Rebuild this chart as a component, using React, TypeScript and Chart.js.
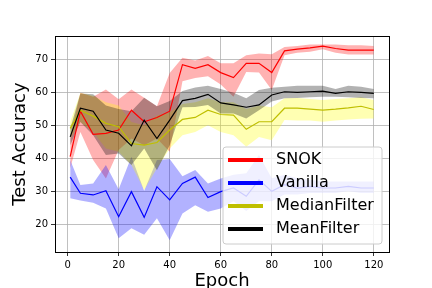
import React, { useEffect, useRef } from "react";
import { Chart, registerables } from "chart.js";

Chart.register(...registerables);

const epochs = [1, 5, 10, 15, 20, 25, 30, 35, 40, 45, 50, 55, 60, 65, 70, 75, 80, 85, 90, 95, 100, 105, 110, 115, 120];

const snokMean = [40.5, 54.3, 47.3, 47.6, 48.6, 54.6, 51.1, 52.4, 54.3, 68.4, 67.3, 68.4, 66.0, 64.5, 68.8, 68.8, 66.0, 72.6, 73.1, 73.5, 74.0, 73.3, 72.8, 72.8, 72.8];
const snokLow = [37, 48, 39.5, 33.9, 42.5, 46, 44, 46, 42, 63.4, 64.4, 64.9, 62.4, 58.7, 66.2, 66, 60.7, 71.3, 72, 72.3, 73.1, 72, 71.5, 71.5, 71.5];
const snokHigh = [46, 59.9, 58.7, 60.9, 57.9, 60.9, 58.4, 55.8, 65.9, 70.5, 69.7, 71, 68.8, 68.8, 71.3, 71.8, 71.6, 73.8, 74.1, 74.5, 74.5, 74.5, 74.3, 74.3, 74.1];

const vanMean = [34.3, 29.4, 28.9, 30.2, 22.3, 29.9, 22.1, 31.4, 27.4, 32.4, 34.3, 28.1, 29.9, 31.0, 28.5, 33.5, 30.0, 32.0, 31.0, 31.5, 31.0, 31.0, 31.5, 31.0, 31.0];
const vanLow = [27.9, 27.2, 26.5, 24.8, 15.8, 18.8, 16.8, 21.8, 15.2, 23.3, 25.8, 23.8, 24.8, 27, 24, 27, 27, 29, 29, 29.5, 29.5, 29.5, 30, 29.5, 29.5];
const vanHigh = [39.5, 31.9, 32.4, 38, 30.6, 40.5, 30.2, 39.5, 39.8, 34.6, 36.5, 32.4, 33.9, 35, 35.5, 41, 34, 35, 34, 33.5, 33, 33, 33, 33, 33];

const medMean = [49.1, 54.6, 52.8, 50.6, 49.6, 44.5, 44.0, 44.8, 48.6, 51.8, 52.4, 54.6, 53.3, 53.1, 48.8, 51.1, 51.1, 55.2, 55.2, 54.9, 54.6, 54.9, 55.3, 55.8, 54.8];
const medLow = [46, 51, 48, 43, 42, 38, 30.4, 37, 43, 47, 48, 50, 48, 47, 43.5, 46.5, 45.5, 51.6, 51.5, 51.5, 51.1, 51.5, 51.8, 52, 52.1];
const medHigh = [51, 59.8, 59, 57, 56, 51, 50, 53, 54, 56.5, 57, 58.2, 57, 57, 55, 56, 55.5, 58.2, 58.3, 58, 57.7, 58, 58.2, 58.5, 57.7];

const meanMean = [46.5, 55.2, 54.3, 48.6, 47.6, 43.8, 51.6, 46.0, 51.6, 57.5, 58.2, 59.4, 56.8, 56.2, 55.5, 56.2, 59.2, 60.2, 60.0, 60.2, 60.4, 59.7, 60.2, 60.0, 59.7];
const meanLow = [44, 51, 47, 41, 41.5, 38, 43, 36.4, 44, 55.5, 55.6, 56.2, 53.6, 53.6, 52.1, 54.6, 57.2, 58.2, 58.3, 58.5, 58.7, 58.7, 58.5, 58.3, 58.2];
const meanHigh = [49, 59.7, 59.4, 56, 55, 54.3, 58.4, 55.8, 57.4, 60.4, 61.5, 62, 61, 59.9, 58.2, 60.7, 61.4, 61.7, 62, 62, 62, 61, 62, 61.7, 61];

const xTicks = [0, 20, 40, 60, 80, 100, 120];
const yTicks = [20, 30, 40, 50, 60, 70];

const legendLabels = ["SNOK", "Vanilla", "MedianFilter", "MeanFilter"];
const legendColors = ["#ff0000", "#0000ff", "#bfbf00", "#000000"];

const FONT = "'DejaVu Sans', sans-serif";

export default function App() {
  const ref = useRef<HTMLCanvasElement>(null);

  useEffect(() => {
    const canvas = ref.current;
    if (!canvas) return;
    const pts = (arr: number[]) => epochs.map((x, i) => ({ x, y: arr[i] }));

    const series = [
      { label: "MeanFilter", line: "#000000", fill: "rgba(0,0,0,0.3)", mean: meanMean, low: meanLow, high: meanHigh },
      { label: "MedianFilter", line: "#bfbf00", fill: "rgba(255,255,0,0.3)", mean: medMean, low: medLow, high: medHigh },
      { label: "Vanilla", line: "#0000ff", fill: "rgba(0,0,255,0.3)", mean: vanMean, low: vanLow, high: vanHigh },
      { label: "SNOK", line: "#ff0000", fill: "rgba(255,0,0,0.3)", mean: snokMean, low: snokLow, high: snokHigh },
    ];

    const datasets: any[] = [];
    series.forEach((s) => {
      datasets.push({ label: s.label + " low", data: pts(s.low), borderWidth: 0, borderColor: "rgba(0,0,0,0)", pointRadius: 0, fill: false });
      datasets.push({ label: s.label + " high", data: pts(s.high), borderWidth: 0, borderColor: "rgba(0,0,0,0)", pointRadius: 0, fill: "-1", backgroundColor: s.fill });
      datasets.push({ label: s.label, data: pts(s.mean), borderWidth: 1.2, borderColor: s.line, pointRadius: 0, fill: false });
    });

    const framePlugin = {
      id: "frame",
      afterDatasetsDraw(chart: any) {
        const { ctx, chartArea: a } = chart;
        ctx.save();
        ctx.strokeStyle = "#000";
        ctx.lineWidth = 1;
        ctx.strokeRect(Math.round(a.left) + 0.5, Math.round(a.top) + 0.5, Math.round(a.right - a.left), Math.round(a.bottom - a.top));
        ctx.restore();
      },
    };

    const legendPlugin = {
      id: "customLegend",
      afterDraw(chart: any) {
        const { ctx, chartArea: a } = chart;
        const w = 159, h = 97;
        const x = a.right - 7 - w;
        const y = a.bottom - 8 - h;
        ctx.save();
        ctx.beginPath();
        const r = 3;
        ctx.moveTo(x + r, y);
        ctx.lineTo(x + w - r, y);
        ctx.quadraticCurveTo(x + w, y, x + w, y + r);
        ctx.lineTo(x + w, y + h - r);
        ctx.quadraticCurveTo(x + w, y + h, x + w - r, y + h);
        ctx.lineTo(x + r, y + h);
        ctx.quadraticCurveTo(x, y + h, x, y + h - r);
        ctx.lineTo(x, y + r);
        ctx.quadraticCurveTo(x, y, x + r, y);
        ctx.closePath();
        ctx.fillStyle = "rgba(255,255,255,0.8)";
        ctx.fill();
        ctx.strokeStyle = "#cccccc";
        ctx.lineWidth = 1;
        ctx.stroke();
        ctx.font = `16px ${FONT}`;
        ctx.textBaseline = "middle";
        legendLabels.forEach((lab, i) => {
          const ry = y + 13 + i * 23;
          ctx.strokeStyle = legendColors[i];
          ctx.lineWidth = 4;
          ctx.beginPath();
          ctx.moveTo(x + 5, ry);
          ctx.lineTo(x + 40, ry);
          ctx.stroke();
          ctx.fillStyle = "#000";
          ctx.fillText(lab, x + 53, ry);
        });
        ctx.restore();
      },
    };

    const chart = new Chart(canvas, {
      type: "line",
      data: { datasets },
      options: {
        animation: false,
        responsive: false,
        events: [],
        layout: { padding: { left: 10, top: 36, right: 43, bottom: 0 } },
        elements: { line: { tension: 0 } },
        plugins: {
          legend: { display: false },
          tooltip: { enabled: false },
          filler: { drawTime: "beforeDatasetsDraw" },
        } as any,
        scales: {
          x: {
            type: "linear",
            min: -4.95,
            max: 125.95,
            afterBuildTicks: (scale: any) => {
              scale.ticks = xTicks.map((v) => ({ value: v }));
            },
            afterFit: (scale: any) => {
              scale.height = 40;
            },
            grid: { color: "#b0b0b0", lineWidth: 0.8, tickColor: "#000", tickLength: 4, drawTicks: true },
            border: { display: false },
            ticks: { color: "#000", font: { family: FONT, size: 10 }, padding: 3, maxRotation: 0, autoSkip: false },
            title: { display: true, text: "Epoch", color: "#000", font: { family: FONT, size: 18 }, padding: 0 },
          },
          y: {
            type: "linear",
            min: 11.6,
            max: 77.1,
            afterBuildTicks: (scale: any) => {
              scale.ticks = yTicks.map((v) => ({ value: v }));
            },
            afterFit: (scale: any) => {
              scale.width = 45;
            },
            grid: { color: "#b0b0b0", lineWidth: 0.8, tickColor: "#000", tickLength: 4, drawTicks: true },
            border: { display: false },
            ticks: { color: "#000", font: { family: FONT, size: 10 }, padding: 3, autoSkip: false },
            title: { display: true, text: "Test Accuracy", color: "#000", font: { family: FONT, size: 18 }, padding: 0 },
          },
        },
      },
      plugins: [framePlugin, legendPlugin],
    });

    return () => chart.destroy();
  }, []);

  return (
    <div style={{ position: "fixed", left: 0, top: 0, width: 432, height: 288, overflow: "hidden", background: "#fff" }}>
      <canvas ref={ref} width={432} height={292} style={{ display: "block", width: 432, height: 292 }} />
    </div>
  );
}
